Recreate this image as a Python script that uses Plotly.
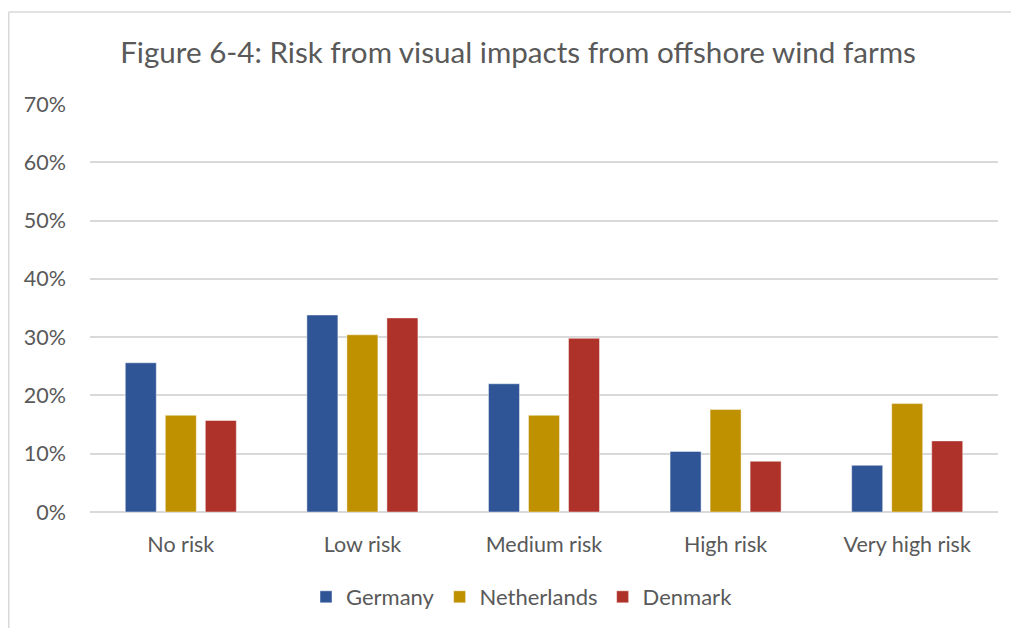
import plotly.graph_objects as go

categories = ["No risk", "Low risk", "Medium risk", "High risk", "Very high risk"]
germany = [0.256, 0.338, 0.220, 0.104, 0.080]
netherlands = [0.166, 0.304, 0.166, 0.176, 0.186]
denmark = [0.157, 0.333, 0.298, 0.087, 0.122]
series_names = ["Germany", "Netherlands", "Denmark"]
colors = ["#2F5597", "#BF9000", "#AE3229"]
y_ticks = [0, 0.1, 0.2, 0.3, 0.4, 0.5, 0.6, 0.7]
y_tick_labels = ["0%", "10%", "20%", "30%", "40%", "50%", "60%", "70%"]

# page body has an 8px margin, so figure coords = screen coords - 8
OFF = 8
W, H = 1019, 628
L, T = 90 - OFF, 104 - OFF
R = W - (998 - OFF)
B = H - (512 - OFF)
pw, ph = W - L - R, H - T - B

fig = go.Figure()
for name, vals, c in zip(series_names, [germany, netherlands, denmark], colors):
    fig.add_trace(go.Bar(
        x=categories, y=vals, name=name,
        marker=dict(color=c, line=dict(color="rgba(255,255,255,0.45)", width=1)),
    ))

font = "Lato"
fig.update_layout(
    width=W, height=H,
    margin=dict(l=L, r=R, t=T, b=B, pad=0),
    paper_bgcolor="white", plot_bgcolor="white",
    barmode="group", bargap=0.339, bargroupgap=0.225,
    title=dict(
        text="Figure 6-4: Risk from visual impacts from offshore wind farms",
        x=(518 - OFF) / W, xref="container", xanchor="center",
        y=1 - (53 - OFF) / H, yref="container", yanchor="middle",
        font=dict(family=font, size=29.6, color="#595959"),
    ),
    xaxis=dict(
        showgrid=False, showline=False, zeroline=False,
        tickfont=dict(family=font, size=21.5, color="#595959"),
        ticks="", ticklabelstandoff=17,
    ),
    yaxis=dict(
        range=[0, 0.7], tickvals=y_ticks, ticktext=y_tick_labels,
        showgrid=True, gridcolor="#D9D9D9", gridwidth=1.5,
        zeroline=True, zerolinecolor="#D9D9D9", zerolinewidth=1.5,
        showline=False, ticks="",
        tickfont=dict(family=font, size=21.5, color="#595959"),
        ticklabelstandoff=23,
    ),
    legend=dict(
        orientation="h", x=(522 - OFF - L) / pw, xanchor="center",
        y=(T + ph - (597 - OFF)) / ph, yanchor="middle",
        font=dict(family=font, size=22, color="#595959"),
        itemwidth=30, traceorder="normal",
    ),
    showlegend=True,
)

# outer chart border (top and left edges visible)
bx, by = 8 - OFF + 0.75, 12 - OFF
fig.add_shape(type="line", xref="paper", yref="paper",
              x0=(bx - L) / pw, x1=(W + 10 - L) / pw,
              y0=(T + ph - by) / ph, y1=(T + ph - by) / ph,
              line=dict(color="#D9D9D9", width=1.5))
fig.add_shape(type="line", xref="paper", yref="paper",
              x0=(bx - L) / pw, x1=(bx - L) / pw,
              y0=(T + ph - by) / ph, y1=(T + ph - H - 10) / ph,
              line=dict(color="#D9D9D9", width=1.5))

fig.write_html("out.html")
